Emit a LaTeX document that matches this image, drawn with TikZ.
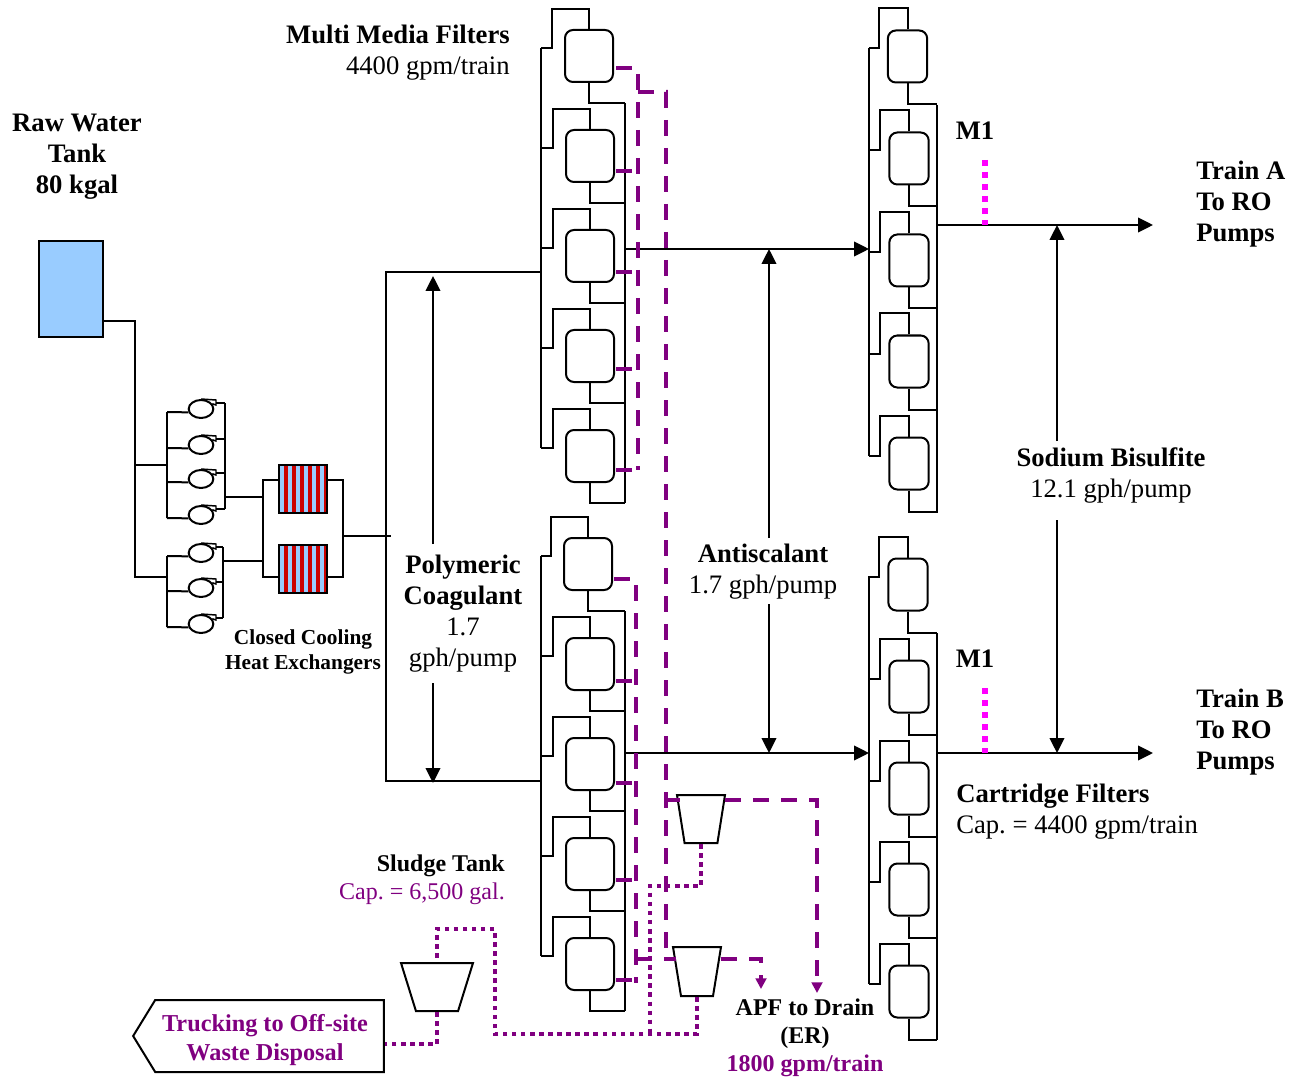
\documentclass[tikz,border=0pt]{standalone}
\usepackage{xcolor}
\usepackage{fontspec}
\setmainfont{Liberation Serif}
\usepackage{tikz}
\usetikzlibrary{arrows.meta,shapes.geometric,shapes.symbols}

\definecolor{drainpurple}{RGB}{128,0,128}
\definecolor{chemmagenta}{RGB}{255,0,255}
\definecolor{tankblue}{RGB}{153,204,255}
\definecolor{hxred}{RGB}{204,0,0}

\begin{document}
\frenchspacing
\begin{tikzpicture}[x=0.75pt, y=-0.75pt]
        \tikzstyle{pipe} = [black, line width=1.5pt]
        \tikzstyle{arrow} = [pipe, -{Triangle[length=11.25pt, width=11pt]}]
        \tikzstyle{filterbox} = [rectangle, draw, line width=1.5pt, rounded corners=6pt, minimum height=39pt, inner sep=0pt, fill=white]
        \tikzstyle{mmf} = [filterbox, minimum width=36pt]
        \tikzstyle{cart} = [filterbox, minimum width=29.5pt]
        \tikzstyle{pump} = [ellipse, draw, line width=1.5pt, minimum width=18.5pt, minimum height=13.5pt, inner sep=0pt]
        \tikzstyle{hx} = [rectangle, draw, line width=1.5pt, minimum width=36pt, minimum height=36pt, inner sep=0pt]
        \tikzstyle{settler} = [trapezium, draw, line width=1.5pt, trapezium stretches=true, inner sep=2pt, fill=white]
        \tikzstyle{backwash} = [drainpurple, line width=3pt, dash pattern=on 12pt off 9pt]
        \tikzstyle{stub} = [drainpurple, line width=3pt]
        \tikzstyle{sludge} = [drainpurple, line width=3pt, dash pattern=on 3.4pt off 3.4pt]
        \tikzstyle{chem} = [chemmagenta, line width=4.2pt, dash pattern=on 4.5pt off 4.5pt]
        \tikzstyle{txtlabel} = [align=center, inner sep=0pt, font=\fontsize{20}{23.25}\selectfont]
        \tikzstyle{hxlabeltxt} = [align=center, inner sep=0pt, font=\fontsize{16}{18.75}\selectfont]
        \tikzstyle{smalllabel} = [align=center, inner sep=0pt, font=\fontsize{18}{21}\selectfont]

        \useasboundingbox (0,0) rectangle (1298,1080);

        \node (rawtank) [rectangle, draw, line width=1.5pt, fill=tankblue, minimum width=48pt, minimum height=72pt, inner sep=0pt] at (71,289) {};

        \coordinate (rawtee) at (135,321);
        \coordinate (bankAin) at (167,465);
        \coordinate (bankBin) at (167,577);
        \draw[pipe] (rawtank.east |- rawtee) -- (rawtee) |- (bankBin);
        \draw[pipe] (rawtee |- bankAin) -- (bankAin);

        \foreach \pid/\py in {pumpa/409, pumpb/445, pumpc/479, pumpd/515} {
            \node (\pid) [pump] at (201,\py) {};
            \draw[pipe] (167,\py+3) -- (\pid.195);
            \draw[pipe, line width=1.1pt] (\pid.north) -- (216,\py-9) -- (216,\py-4) -- (\pid.25);
            \draw[pipe] (216,\py-6) -- (225,\py-6);
        }
        \foreach \pid/\py in {pumpe/553, pumpf/588, pumpg/624} {
            \node (\pid) [pump] at (201,\py) {};
            \draw[pipe] (167,\py+3) -- (\pid.195);
            \draw[pipe, line width=1.1pt] (\pid.north) -- (216,\py-9) -- (216,\py-4) -- (\pid.25);
            \draw[pipe] (216,\py-6) -- (223,\py-6);
        }
        \draw[pipe] (167,412) -- (167,518);
        \draw[pipe] (225,403) -- (225,509);
        \draw[pipe] (167,556) -- (167,627);
        \draw[pipe] (223,547) -- (223,618);

        \foreach \hy in {465,545} {
            \fill[tankblue] (279,\hy) rectangle (327,\hy+48);
            \foreach \k in {0,...,5} {
                \fill[hxred] (284+8*\k,\hy) rectangle (288+8*\k,\hy+48);
            }
        }
        \node (hxA) [hx] at (303,489) {};
        \node (hxB) [hx] at (303,569) {};

        \coordinate (hxinA) at (263,480);
        \coordinate (hxinB) at (263,577);
        \coordinate (hxoutA) at (343,480);
        \coordinate (hxoutB) at (343,577);
        \coordinate (coagtee) at (386,536);
        \draw[pipe] (225,497) -- (263,497);
        \draw[pipe] (223,561) -- (263,561);
        \draw[pipe] (hxA.west |- hxinA) -- (hxinA) -- (hxinB) -- (hxB.west |- hxinB);
        \draw[pipe] (hxA.east |- hxoutA) -- (hxoutA) -- (hxoutB) -- (hxB.east |- hxoutB);
        \draw[pipe, line width=1.1pt] (hxoutA |- coagtee) -- (391,536);

        \coordinate (feedA) at (541,272);
        \coordinate (feedB) at (541,781);
        \draw[pipe] (feedA) -- (feedA -| coagtee) -- (feedB -| coagtee) -- (feedB);

        \foreach \fid/\cx/\cy in {mmfa/589/56, mmfb/590/156, mmfc/590/256, mmfd/590/356, mmfe/590/456,
                                  mmff/588/564, mmfg/590/664, mmfh/590/764, mmfi/590/864, mmfj/590/964} {
            \node (\fid) [mmf] at (\cx,\cy) {};
            \draw[pipe] (\fid.north) -- (\cx,\cy-47) -- (\cx-37,\cy-47) -- (\cx-37,\cy-8) -- (541,\cy-8);
            \draw[pipe] (\fid.south) -- (\cx,\cy+47) -- (625,\cy+47);
        }
        \foreach \fid/\cx/\cy in {carta/907.5/56.5, cartb/909/158.5, cartc/909/260.5, cartd/909/361.5, carte/909/463.5,
                                  cartf/908/584.5, cartg/909/686.5, carth/909/788.5, carti/909/889.5, cartj/909/991.5} {
            \node (\fid) [cart] at (\cx,\cy) {};
            \draw[pipe] (\fid.north) -- (\cx,\cy-48) -- (\cx-29,\cy-48) -- (\cx-29,\cy-8) -- (869,\cy-8);
            \draw[pipe] (\fid.south) -- (\cx,\cy+48) -- (937,\cy+48);
        }
        \draw[pipe] (541,48) -- (541,448);
        \draw[pipe] (625,103) -- (625,503);
        \draw[pipe] (541,556) -- (541,956);
        \draw[pipe] (625,611) -- (625,1011);
        \draw[pipe] (869,48) -- (869,455.5);
        \draw[pipe] (937,105) -- (937,513);
        \draw[pipe] (869,576) -- (869,983.5);
        \draw[pipe] (937,633) -- (937,1040);

        \coordinate (mmfoutA) at (625,249);
        \coordinate (mmfoutB) at (625,753);
        \coordinate (cartinA) at (869,249);
        \coordinate (cartinB) at (869,753);
        \coordinate (cartoutA) at (937,225);
        \coordinate (cartoutB) at (937,753);
        \coordinate (trainA) at (1153,225);
        \coordinate (trainB) at (1153,753);
        \draw[arrow] (mmfoutA) -- (cartinA);
        \draw[arrow] (mmfoutB) -- (cartinB);
        \draw[arrow] (cartoutA) -- (trainA);
        \draw[arrow] (cartoutB) -- (trainB);

        \node (mA) [txtlabel] at (975,131) {\textbf{M1}};
        \node (mB) [txtlabel] at (975,659) {\textbf{M1}};
        \draw[chem] (985,160) -- (985,225);
        \draw[chem] (985,688) -- (985,753);

        \node (polylabel) [txtlabel] at (463,614) {\textbf{Polymeric}\\\textbf{Coagulant}\\1.7\\gph/pump};
        \node (antilabel) [txtlabel] at (763,571.5) {\textbf{Antiscalant}\\1.7 gph/pump};
        \node (sodiumlabel) [txtlabel] at (1111,475) {\textbf{Sodium Bisulfite}\\12.1 gph/pump};
        \draw[arrow] (433,544) -- (433,276);
        \draw[arrow] (433,683) -- (433,783);
        \draw[arrow] (769,538) -- (769,249);
        \draw[arrow] (769,604) -- (769,753);
        \draw[arrow] (1057,441) -- (1057,225);
        \draw[arrow] (1057,520) -- (1057,753);

        \node (topsettler) [settler, trapezium left angle=103, trapezium right angle=103, minimum width=36pt, minimum height=36pt] at (701,819) {};
        \node (lowsettler) [settler, trapezium left angle=104, trapezium right angle=104, minimum width=36pt, minimum height=36.75pt] at (697,971.5) {};
        \node (sludgetank) [settler, trapezium left angle=109.5, trapezium right angle=109.5, minimum width=54pt, minimum height=36pt] at (437,987) {};
        \node (truck) [draw, line width=1.5pt, signal, signal to=west, signal from=nowhere, signal pointer angle=117, minimum width=188pt, minimum height=54pt, inner sep=0pt] at (269.5,1036) {};
        \node (trucklabel) [txtlabel, text=drainpurple, font=\fontsize{18.2}{21.75}\selectfont] at (265,1040) {\textbf{Trucking to Off-site}\\\textbf{Waste Disposal}};

        \draw[backwash] (616,68) -- (638,68) -- (638,470);
        \foreach \sy in {171,272,369,470} {
            \draw[stub] (616,\sy) -- (632,\sy);
        }
        \draw[backwash] (638,92) -- (666,92) -- (666,959);
        \draw[backwash] (614,579) -- (636,579) -- (636,983);
        \foreach \sy in {681,783,880,980} {
            \draw[stub] (616,\sy) -- (632,\sy);
        }
        \draw[backwash] (636,959) -- (lowsettler.west |- 636,959);
        \draw[stub] (666,800) -- (topsettler.west |- 666,800);
        \draw[stub] (666,959) -- (lowsettler.west |- 666,959);

        \coordinate (aprdrain) at (761,989);
        \coordinate (ermdrain) at (817,993);
        \draw[backwash, -{Triangle[length=8pt, width=8pt]}] (721,959) -| (aprdrain);
        \draw[backwash, -{Triangle[length=8pt, width=8pt]}] (725,800) -| (ermdrain);

        \coordinate (sludgejoin) at (650,1034);
        \coordinate (sludgeriser) at (495,929);
        \coordinate (truckin) at (437,1044);
        \draw[sludge] (topsettler.south) |- (650,886) -- (sludgejoin);
        \draw[sludge] (lowsettler.south) |- (sludgejoin) -- (495,1034) -- (sludgeriser) -| (sludgetank.north);
        \draw[sludge] (sludgetank.south) -- (truckin) -- (truck.east |- truckin);

        \node (mmflabel) [txtlabel, anchor=east, align=right] at (510,52.5) {\textbf{Multi Media Filters}\\4400 gpm/train};
        \node (rawlabel) [txtlabel] at (77,156.5) {\textbf{Raw Water}\\\textbf{Tank}\\\textbf{80 kgal}};
        \node (trainAlabel) [txtlabel, anchor=west, align=left] at (1196,204) {\textbf{Train A}\\\textbf{To RO}\\\textbf{Pumps}};
        \node (trainBlabel) [txtlabel, anchor=west, align=left] at (1196,732) {\textbf{Train B}\\\textbf{To RO}\\\textbf{Pumps}};
        \node (cartlabel) [txtlabel, anchor=west, align=left] at (956,812) {\textbf{Cartridge Filters}\\Cap. = 4400 gpm/train};
        \node (hxlabel) [hxlabeltxt] at (303,652) {\textbf{Closed Cooling}\\\textbf{Heat Exchangers}};
        \node (sludgelabel) [smalllabel, anchor=east, align=right] at (505,880) {\textbf{Sludge Tank}\\\textcolor{drainpurple}{Cap. = 6,500 gal.}};
        \node (drainlabel) [smalllabel] at (805,1038) {\textbf{APF to Drain}\\\textbf{(ER)}\\\textcolor{drainpurple}{\textbf{1800 gpm/train}}};
\end{tikzpicture}
\end{document}
